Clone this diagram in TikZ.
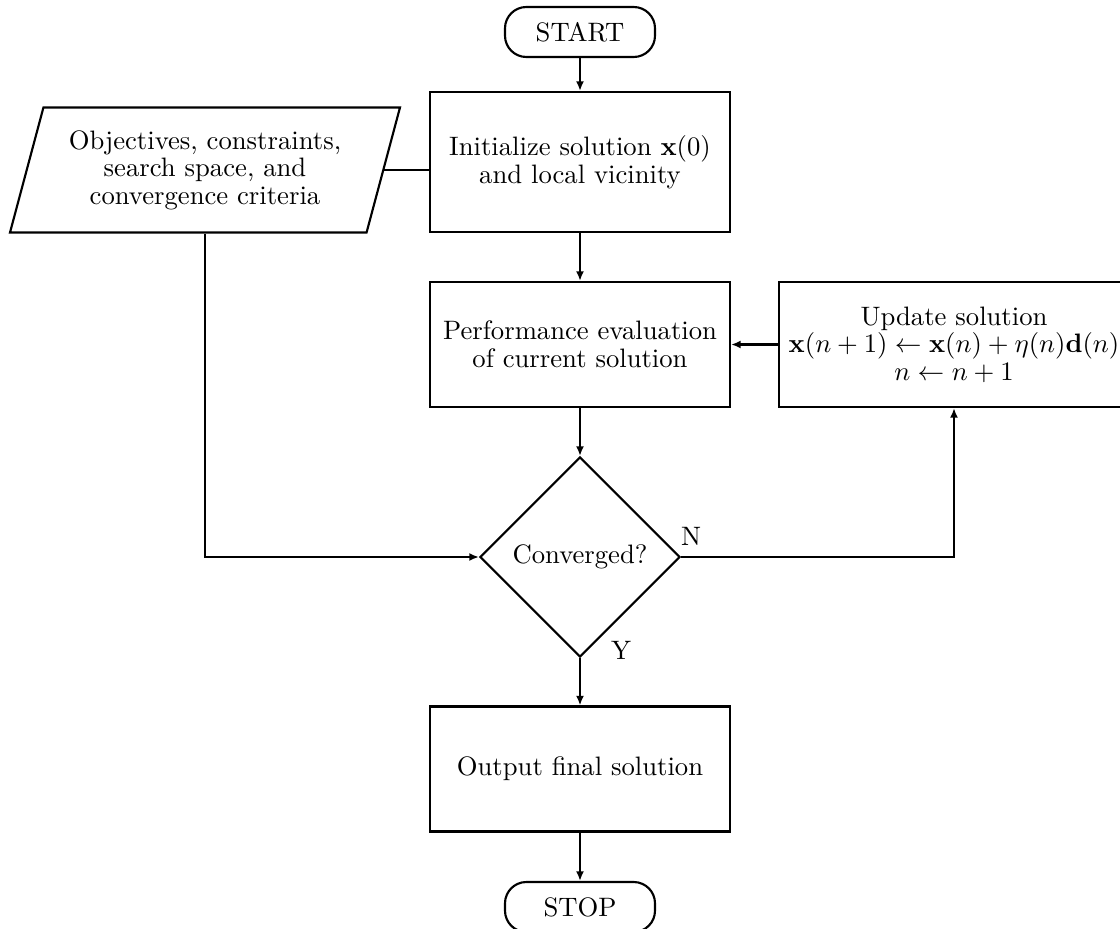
\documentclass[tikz,border=0pt]{standalone}
\usetikzlibrary{shapes.geometric,arrows.meta}
\begin{document}
\begin{tikzpicture}[x=0.375pt,y=-0.375pt,
  every node/.style={align=center, font=\linespread{0.86}\selectfont},
  box/.style={draw, line width=0.8pt, rectangle, minimum width=112.5pt, minimum height=46.9pt},
  term/.style={draw, line width=0.8pt, rectangle, rounded corners=8pt, minimum width=56.25pt, minimum height=18.75pt},
  decision/.style={draw, line width=0.8pt, diamond, aspect=1, minimum width=75pt, minimum height=75pt, inner sep=0pt},
  io/.style={draw, line width=0.8pt, trapezium, trapezium left angle=71, trapezium right angle=109,
    trapezium stretches body, minimum width=146.25pt, minimum height=46.9pt},
  flow/.style={line width=0.8pt, -{Latex[length=3.6pt,width=3pt]}},
  link/.style={line width=0.8pt}]
\useasboundingbox (0,0) rectangle (1120,928);

% blocks of the flow chart
\node[term] (start) at (580,32) {START};
\node[box, minimum height=52.5pt] (init) at (580,162) {Initialize solution $\mathbf{x}(0)$\\ and local vicinity};
\node[io] (spec) at (205,170) {Objectives, constraints,\\ search space, and\\ convergence criteria};
\node[box] (perf) at (580,344.5) {Performance evaluation\\ of current solution};
\node[box, minimum width=131.25pt] (upd) at (954,344.5) {Update solution\\ $\mathbf{x}(n+1)\leftarrow\mathbf{x}(n)+\eta(n)\mathbf{d}(n)$\\ $n\leftarrow n+1$};
\node[decision] (conv) at (580,557) {Converged?};
\node[box] (out) at (580,769) {Output final solution};
\node[term] (stop) at (580,907) {STOP};

% connectors
\draw[flow] (start) -- (init);
\draw[link] (spec.east) -- (spec.east -| init.west);
\draw[flow] (init) -- (perf);
\draw[flow] (upd) -- (perf);
\draw[flow] (perf) -- (conv);
\draw[flow] (spec.south) |- (conv.west);
\draw[flow] (conv.east) -| (upd.south);
\draw[flow] (conv) -- (out);
\draw[flow] (out) -- (stop);

% branch labels
\node (nlab) at ([shift={(10,-21)}]conv.east) {N};
\node (ylab) at ([shift={(41,-8)}]conv.south) {Y};
\end{tikzpicture}
\end{document}
